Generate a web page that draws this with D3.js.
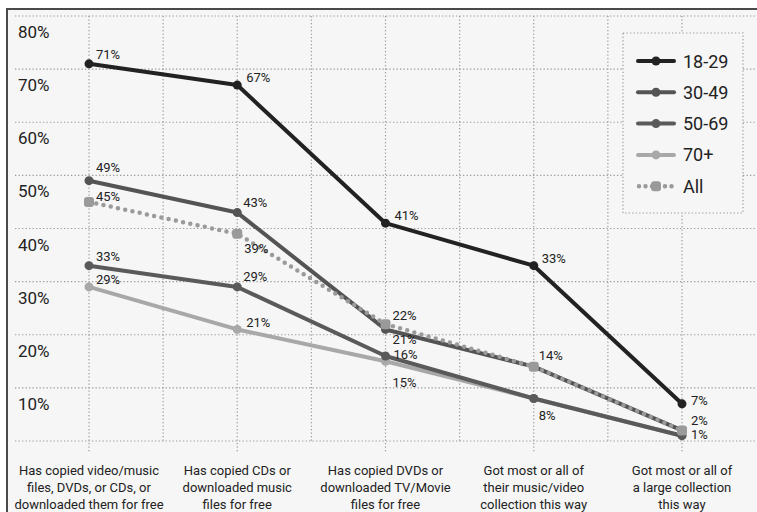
<!DOCTYPE html>
<html>
<head>
<meta charset="utf-8">
<script src="https://cdn.jsdelivr.net/npm/d3@7/dist/d3.min.js"></script>
<style>
  html, body { margin: 0; padding: 0; background: #ffffff; }
  svg { display: block; }
  text { font-family: Roboto, "Liberation Sans", Arial, sans-serif; fill: #222; }
</style>
</head>
<body>
<script>
// Share of adults who copied / downloaded music and video for free, by age
const categories = [
  "Has copied video/music|files, DVDs, or CDs, or|downloaded them for free",
  "Has copied CDs or|downloaded music|files for free",
  "Has copied DVDs or|downloaded TV/Movie|files for free",
  "Got most or all of|their music/video|collection this way",
  "Got most or all of|a large collection|this way"
];
const seriesNames = ["18-29", "30-49", "50-69", "70+", "All"];
const values1829 = [71, 67, 41, 33, 7];
const values3049 = [49, 43, 21, 14, 2];
const values5069 = [33, 29, 16, 8, 1];
const values70p  = [29, 21, 15, 8, 1];
const valuesAll  = [45, 39, 22, 14, 2];
const yTicks = [10, 20, 30, 40, 50, 60, 70, 80];

// Label placement per point: [dx, dy] from the marker, null = no label
const labelPlacement = {
  "18-29": [[7, -9], [9, -8], [9, -8], [8, -7], [9, -3]],
  "30-49": [[7, -13], [6, -10], [7, 10], [5, -11], [9, -10]],
  "50-69": [[7, -9], [6, -10], [8, -1.5], [5, 17], [9, -1]],
  "70+":   [[7, -7], [9, -7], [7, 21], null, null],
  "All":   [[7, -5], [7, 15], [7, -9], null, null]
};

const styles = {
  "18-29": { color: "#222222", dotted: false },
  "30-49": { color: "#545454", dotted: false },
  "50-69": { color: "#5a5a5a", dotted: false },
  "70+":   { color: "#a8a8a8", dotted: false },
  "All":   { color: "#9a9a9a", dotted: true }
};

const series = [
  { name: "18-29", values: values1829 },
  { name: "30-49", values: values3049 },
  { name: "50-69", values: values5069 },
  { name: "70+",   values: values70p },
  { name: "All",   values: valuesAll }
];

const W = 757, H = 512;
const svg = d3.select("body").append("svg").attr("width", W).attr("height", H);

// Frame
svg.append("rect").attr("x", 7).attr("y", 9).attr("width", W - 7).attr("height", H - 9)
  .attr("fill", "#f6f6f6");
svg.append("path").attr("d", `M7,${H} L7,9 L${W},9`)
  .attr("fill", "none").attr("stroke", "#4a4a4a").attr("stroke-width", 2);

const x = d3.scalePoint().domain(categories).range([89, 682]);
const y = d3.scaleLinear().domain([0, 80]).range([441, 16]);
const step = x.step();

// Grid
const grid = svg.append("g").attr("stroke", "#9a9a9a").attr("stroke-width", 1.2)
  .attr("stroke-dasharray", "1.3 2.2").attr("fill", "none");
[0].concat(yTicks).forEach(v => {
  grid.append("line").attr("x1", 15).attr("x2", W).attr("y1", y(v)).attr("y2", y(v));
});
categories.forEach((c, i) => {
  grid.append("line").attr("x1", x(c)).attr("x2", x(c)).attr("y1", y(80)).attr("y2", y(0) + 12);
  if (i < categories.length - 1) {
    const xm = x(c) + step / 2;
    grid.append("line").attr("x1", xm).attr("x2", xm).attr("y1", y(80)).attr("y2", y(0));
  }
});

// Y tick labels (set just under their gridline)
svg.append("g").selectAll("text").data(yTicks).join("text")
  .attr("x", 18).attr("y", d => y(d) + 22)
  .attr("font-size", 17).text(d => d + "%");

// Category labels
const catG = svg.append("g");
categories.forEach(c => {
  const t = catG.append("text").attr("text-anchor", "middle").attr("font-size", 13);
  c.split("|").forEach((ln, j) => {
    t.append("tspan").attr("x", x(c)).attr("y", 475 + j * 17).text(ln);
  });
});

// Lines (drawn back to front)
const drawOrder = ["70+", "50-69", "30-49", "All", "18-29"];
const line = d3.line().x((d, i) => x(categories[i])).y(d => y(d));
drawOrder.forEach(name => {
  const s = series.find(d => d.name === name);
  const st = styles[name];
  const g = svg.append("g");
  const p = g.append("path").datum(s.values).attr("d", line)
    .attr("fill", "none").attr("stroke", st.color)
    .attr("stroke-linejoin", "round");
  if (st.dotted) {
    p.attr("stroke-width", 4.5).attr("stroke-dasharray", "0 7.4").attr("stroke-linecap", "round");
    g.selectAll("rect").data(s.values).join("rect")
      .attr("x", (d, i) => x(categories[i]) - 5).attr("y", d => y(d) - 5)
      .attr("width", 10).attr("height", 10).attr("rx", 3)
      .attr("fill", st.color);
  } else {
    p.attr("stroke-width", 4);
    g.selectAll("circle").data(s.values).join("circle")
      .attr("cx", (d, i) => x(categories[i])).attr("cy", d => y(d))
      .attr("r", 4.5).attr("fill", st.color);
  }
});

// Value labels
const lblG = svg.append("g");
series.forEach(s => {
  s.values.forEach((v, i) => {
    const pl = labelPlacement[s.name][i];
    if (!pl) return;
    lblG.append("text")
      .attr("x", x(categories[i]) + pl[0]).attr("y", y(v) + pl[1])
      .attr("dominant-baseline", "central")
      .attr("font-size", 13).text(v + "%");
  });
});

// Legend
const lg = svg.append("g");
lg.append("rect").attr("x", 623).attr("y", 33).attr("width", 120).attr("height", 180)
  .attr("fill", "#f6f6f6").attr("stroke", "#9a9a9a").attr("stroke-width", 1.2)
  .attr("stroke-dasharray", "1.3 2.2");
seriesNames.forEach((name, i) => {
  const st = styles[name];
  const cy = 61 + i * 31.3;
  const l = lg.append("line").attr("x1", 638).attr("x2", 674).attr("y1", cy).attr("y2", cy)
    .attr("stroke", st.color);
  if (st.dotted) {
    l.attr("stroke-width", 4.5).attr("stroke-dasharray", "0 6.5").attr("stroke-linecap", "round")
      .attr("x1", 639).attr("x2", 675);
    lg.append("rect").attr("x", 651).attr("y", cy - 5).attr("width", 10).attr("height", 10)
      .attr("rx", 3).attr("fill", st.color);
  } else {
    l.attr("stroke-width", 4).attr("stroke-linecap", "round");
    lg.append("circle").attr("cx", 656).attr("cy", cy).attr("r", 4.5).attr("fill", st.color);
  }
  lg.append("text").attr("x", 683).attr("y", cy).attr("dominant-baseline", "central")
    .attr("font-size", 18).text(name);
});
</script>
</body>
</html>
